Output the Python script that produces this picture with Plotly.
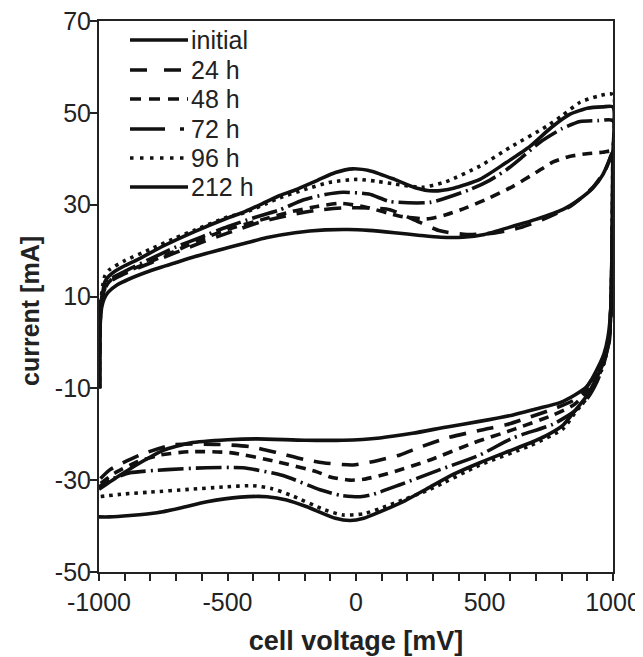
import plotly.graph_objects as go

# ---------------- data ----------------
# Each curve: anodic sweep (-1000 -> 1000 mV) followed by cathodic sweep (1000 -> -1000 mV)

initial_x = [-998, -997, -993, -985, -977, -960, -938, -900, -848, -750, -626, -500, -432, -350, -296, -237,
             -150, -80, -12, 60, 150, 230, 300, 380, 482, 580, 677, 760, 833, 900, 960, 1000,
             999, 997, 993, 988, 978, 962, 938, 900, 850, 806, 740, 677, 580, 482, 380, 288, 190, 93, 30,
             -23, -80, -191, -270, -346, -450, -580, -680, -774, -880, -960, -1000]
initial_y = [-10, 3, 8, 11, 13.2, 14.5, 15.5, 16.7, 18.1, 21, 24.2, 27.1, 28.5, 30.6, 32.0, 33.2,
             35.3, 37.0, 37.8, 37.3, 35.5, 33.7, 33.0, 33.6, 35.5, 39, 42.7, 46.8, 49.7, 51.0, 51.3, 51.3,
             40, 25, 10, 3, -1.5, -4.5, -7.5, -11.5, -15, -18, -20.3, -21.9, -24.0, -26.2, -28.7, -31.5, -34.5, -36.9, -38.3,
             -38.8, -38.3, -35.8, -34.3, -33.6, -33.7, -34.7, -36.0, -37.1, -37.7, -38.0, -38.0]

h24_x = [-998, -996, -990, -975, -950, -900, -800, -700, -600, -500, -362, -250, -150, -50, 50, 132, 222, 327,
         432, 533, 640, 728, 833, 922, 970, 1000,
         999, 993, 985, 965, 950, 900, 850, 767, 680, 588, 494, 354, 250, 171, 93, -12, -128, -200, -307,
         -412, -550, -712, -840, -957, -1000]
h24_y = [-10, 4, 9, 12, 13.5, 15, 17.3, 19.6, 21.8, 23.8, 26.4, 27.8, 28.8, 29.3, 29.3, 28.9, 26.8, 24.3,
         23.5, 23.8, 25, 26.8, 29.6, 33.8, 37.5, 41.6,
         25, 8, 0, -3.5, -5, -9.5, -12.5, -14.5, -16.2, -17.9, -19, -20.8, -22.8, -24.5, -25.6, -26.7, -26.2, -25.5, -24,
         -22.7, -22.2, -22.3, -24.5, -27.7, -30]

h48_x = [-998, -996, -990, -975, -950, -900, -800, -700, -600, -500, -362, -250, -152, -62, 43, 171, 276, 350,
         432, 520, 611, 700, 767, 830, 899, 960, 1000,
         999, 993, 985, 965, 950, 900, 850, 767, 611, 456, 288, 121, 30, -23, -100, -152, -307, -490, -646,
         -760, -850, -940, -1000]
h48_y = [-10, 4, 9, 12, 13.8, 15.2, 17.6, 20, 22.5, 24.6, 26.8, 28.5, 29.6, 30.3, 29.4, 27.5, 26.9, 27.8,
         29.4, 31.5, 34, 37, 39.3, 40.5, 41.1, 41.4, 41.6,
         30, 10, 1, -3.5, -5.5, -10.5, -13.5, -15.8, -19, -21.9, -25.6, -28.6, -29.8, -30, -29.3, -28.2, -26, -24, -23.8,
         -24.5, -26, -28.5, -31]

h72_x = [-998, -996, -990, -975, -950, -900, -800, -700, -600, -500, -400, -300, -206, -120, -51, 50, 132, 288,
         444, 520, 588, 650, 716, 800, 872, 940, 1000,
         999, 993, 985, 965, 938, 900, 850, 767, 611, 482, 327, 171, 60, 16, -60, -140, -284, -440, -580,
         -735, -879, -960, -1000]
h72_y = [-10, 4, 9.5, 12.5, 14, 15.5, 18.2, 20.8, 23, 25.2, 27.1, 28.8, 31.0, 32.2, 32.7, 32.3, 30.7, 30.5,
         33.3, 35.3, 37.7, 40.5, 43.6, 46.5, 48.1, 48.3, 48.3,
         35, 10, 1, -4.5, -8.5, -12.2, -15, -17.8, -20.8, -24.5, -27.7, -31, -33.2, -33.6, -33.3, -32.1, -29, -27.3, -27.3,
         -27.7, -28.4, -30, -31.5]

h96_x = [-998, -996, -992, -985, -977, -960, -900, -800, -700, -626, -500, -432, -350, -296, -200, -100, 4, 80,
         150, 261, 350, 482, 600, 743, 800, 872, 940, 1000,
         999, 997, 993, 988, 978, 962, 938, 900, 850, 806, 677, 482, 288, 150, 93, 30, -50, -120, -257, -330,
         -401, -517, -650, -800, -900, -1000]
h96_y = [-10, 4, 9.5, 12.5, 14.5, 15.8, 17.8, 20.3, 22.8, 24.5, 27.3, 28.3, 30.2, 31.5, 33.3, 34.9, 35.5, 35.1,
         34.5, 33.8, 35.0, 38.4, 42.5, 47.1, 49.3, 52.3, 53.6, 54,
         40, 25, 10, 3, -1.5, -5, -8, -12, -15.5, -18.8, -22.5, -26.7, -32.0, -35, -36.2, -37.3, -37.6, -36.5, -33.2, -31.8,
         -31.2, -31.5, -32.0, -32.6, -33.0, -33.6]

h212_x = [-998, -996, -990, -980, -965, -930, -887, -800, -700, -626, -500, -432, -350, -237, -120, -30, 50, 150,
          250, 330, 416, 500, 611, 700, 806, 870, 920, 960, 985, 1000,
          999, 996, 990, 980, 965, 950, 899, 850, 794, 700, 611, 480, 354, 220, 93, -50, -200, -385, -500,
          -646, -750, -840, -920, -1000]
h212_y = [-10, 3, 7.5, 9.5, 10.9, 12.5, 13.7, 15.6, 17.4, 18.7, 20.6, 21.6, 22.8, 23.9, 24.5, 24.6, 24.4, 23.9,
          23.3, 22.9, 22.9, 23.5, 25.3, 26.8, 29, 31.2, 33.5, 36.5, 39.5, 41.6,
          30, 15, 6, 1, -2.5, -4.5, -9.6, -11.5, -13.1, -14.5, -15.8, -17.2, -18.4, -19.8, -20.8, -21.3, -21.3, -21, -21.2,
          -21.9, -23.5, -26.2, -29, -32]

series_names = ["initial", "24 h", "48 h", "72 h", "96 h", "212 h"]
series_x = [initial_x, h24_x, h48_x, h72_x, h96_x, h212_x]
series_y = [initial_y, h24_y, h48_y, h72_y, h96_y, h212_y]
series_dash = ["solid", "17px,11px", "10px,7px", "26px,5px,2px,5px", "3.5px,5px", "solid"]
legend_dash = ["solid", "17px,17px", "11px,8px", "35px,15px,4px,20px", "3.5px,6.5px", "solid"]

x_ticks = [-1000, -500, 0, 500, 1000]
y_ticks = [-50, -30, -10, 10, 30, 50, 70]

FONT = "Liberation Sans, Arial, Helvetica, sans-serif"
INK = "#111111"
AX = "#222222"

# The page body has an 8 px margin, so figure coordinates are page coordinates minus 8.
OFF = 8
FIG_W, FIG_H = 643 - OFF, 657 - OFF
# plot-area geometry in page pixels
L, R, T, B = 99, 613, 21, 572
W, H = R - L, B - T

fig = go.Figure()
for name, xs, ys, dash in zip(series_names, series_x, series_y, series_dash):
    fig.add_trace(go.Scatter(
        x=xs, y=ys, mode="lines", name=name, showlegend=False,
        line=dict(color=INK, width=3.6, dash=dash, shape="spline", smoothing=0.6),
    ))

# legend drawn as paper-referenced line samples + text
legend_rows_px = [40, 70, 99, 129, 158, 187]
for name, dash, py in zip(series_names, legend_dash, legend_rows_px):
    yy = (B - py) / H
    fig.add_shape(type="line", xref="paper", yref="paper",
                  x0=(130 - L) / W, x1=(188 - L) / W, y0=yy, y1=yy,
                  line=dict(color=INK, width=3.6, dash=dash))
    fig.add_annotation(xref="paper", yref="paper", x=(189 - L) / W, y=yy,
                       text=name, showarrow=False, xanchor="left", yanchor="middle",
                       font=dict(family=FONT, size=25, color=AX))

# y-axis title placed as a rotated annotation (exact position)
fig.add_annotation(xref="paper", yref="paper", x=(30 - L) / W, y=(B - 311) / H,
                   text="<b>current [mA]</b>", showarrow=False, textangle=-90,
                   xanchor="center", yanchor="middle",
                   font=dict(family=FONT, size=25, color=AX))

axis_common = dict(
    showline=True, linecolor=AX, linewidth=2, mirror=True,
    ticks="outside", ticklen=7, tickwidth=1.5, tickcolor=AX,
    showgrid=False, zeroline=False, automargin=False,
    ticklabeloverflow="allow",
    tickfont=dict(family=FONT, size=25, color=AX),
)

fig.update_xaxes(
    range=[-1000, 1000], tickvals=x_ticks, ticktext=[str(v) for v in x_ticks],
    minor=dict(ticks="outside", ticklen=7, tickwidth=1.5, tickcolor=AX, dtick=100, showgrid=False),
    title=dict(text="<b>cell voltage [mV]</b>", font=dict(family=FONT, size=27, color=AX), standoff=16),
    **axis_common,
)
fig.update_yaxes(
    range=[-50, 70], tickvals=y_ticks, ticktext=[str(v) for v in y_ticks],
    ticklabelstandoff=-6,
    **axis_common,
)

fig.update_layout(
    width=FIG_W, height=FIG_H,
    margin=dict(l=L - OFF, r=FIG_W - (R - OFF), t=T - OFF, b=FIG_H - (B - OFF)),
    paper_bgcolor="white", plot_bgcolor="white",
    font=dict(family=FONT, size=25, color=AX),
    showlegend=False,
)

fig.write_html("out.html")
